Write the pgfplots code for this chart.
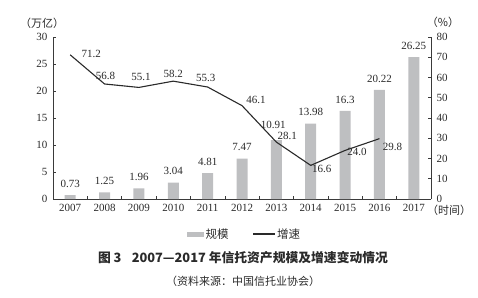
\documentclass[border=0pt]{standalone}
\usepackage{pgfplots}
\usepackage{pgfplotstable}
\pgfplotsset{compat=1.18}
\usepackage{fontspec}
\setmainfont{Liberation Serif}
\newfontfamily\cjk{Noto Sans CJK SC}

\definecolor{barg}{HTML}{BEBFC1}
\definecolor{linec}{HTML}{2A2A2A}
\definecolor{axc}{HTML}{3A3A3A}
\definecolor{txt}{HTML}{2A2A2A}

% trust assets (trillion yuan); dx/dy nudge the value labels
\pgfplotstableread{
x  y      dx  dy
0  0.73   0   0
1  1.25   0   0
2  1.96   0   0
3  3.04   0   0
4  4.81   0   0
5  7.47   0   0
6  10.91 -3   3.5
7  13.98  0   0
8  16.3   0   0
9  20.22  0   0
10 26.25  0   0
}\scale

\pgfplotsset{
  common/.style={
    at={(53pt,98pt)}, anchor=south west,
    scale only axis, width=378pt, height=162pt,
    xmin=-0.5, xmax=10.5,
    tick align=inside, major tick length=3pt, minor tick length=3pt,
    axis line style={draw=axc, line width=0.6pt},
    every tick/.style={draw=axc, line width=0.6pt},
    tick label style={font=\fontsize{11}{13}\selectfont, text=txt},
    /pgf/number format/assume math mode=true,
  },
}

\begin{document}
\begin{tikzpicture}[x=1pt,y=1pt]
\path[use as bounding box] (0,0) rectangle (478,297);

% trust assets, trillion yuan (left axis)
\begin{axis}[common,
  ymin=0, ymax=30, ytick={0,5,...,30},
  axis x line*=bottom, axis y line*=left,
  xtick={0,...,10},
  xticklabels={2007,2008,2009,2010,2011,2012,2013,2014,2015,2016,2017},
  major x tick style={draw=none},
  minor xtick={0.5,1.5,...,9.5},
  yticklabel style={xshift=-2pt},
  xticklabel style={yshift=-2pt},
]
\addplot[ybar, bar width=0.32, fill=barg, draw=none,
  visualization depends on={\thisrow{dx} \as \ldx},
  visualization depends on={\thisrow{dy} \as \ldy},
  nodes near coords={\pgfmathprintnumber[fixed,precision=2]{\pgfplotspointmeta}},
  every node near coord/.style={anchor=south, xshift=\ldx pt, yshift=4pt+\ldy pt,
    font=\fontsize{11}{13}\selectfont, text=txt}]
table[x=x, y=y] {\scale};
\end{axis}

% growth rate, percent (right axis)
\begin{axis}[common,
  ymin=0, ymax=80, ytick={0,10,...,80},
  axis x line=none, axis y line*=right,
  yticklabel style={xshift=2pt},
]
\addplot[draw=linec, line width=1.1pt, mark=none] coordinates {
  (0,71.2) (1,56.8) (2,55.1) (3,58.2) (4,55.3)
  (5,46.1) (6,28.1) (7,16.6) (8,24.0) (9,29.8)
};
\begin{scope}[every node/.style={font=\fontsize{11}{13}\selectfont, text=txt}]
\node[xshift=21pt, yshift=1pt]  at (axis cs:0,71.2) {71.2};
\node[xshift=1pt,  yshift=8pt]  at (axis cs:1,56.8) {56.8};
\node[xshift=2pt,  yshift=10pt] at (axis cs:2,55.1) {55.1};
\node[xshift=0pt,  yshift=7pt]  at (axis cs:3,58.2) {58.2};
\node[xshift=-2pt, yshift=9pt]  at (axis cs:4,55.3) {55.3};
\node[xshift=14pt, yshift=6pt]  at (axis cs:5,46.1) {46.1};
\node[xshift=11pt, yshift=6pt]  at (axis cs:6,28.1) {28.1};
\node[xshift=11pt, yshift=-4pt] at (axis cs:7,16.6) {16.6};
\node[xshift=12pt, yshift=-2pt] at (axis cs:8,24.0) {24.0};
\node[xshift=13pt, yshift=-8pt] at (axis cs:9,29.8) {29.8};
\end{scope}
\end{axis}

% unit labels
\begin{scope}[every node/.style={font=\cjk\fontsize{11}{13}\selectfont, text=txt}]
\node at (42,274) {（万亿）};
\node at (443,275) {（\%）};
\node at (449,87) {（时间）};
\end{scope}

% legend
\fill[barg] (187,60.5) rectangle (204,65.5);
\node[anchor=west, inner sep=0pt, font=\cjk\fontsize{11.5}{13}\selectfont, text=txt] at (205.5,63) {规模};
\draw[linec, line width=1.1pt] (253,63) -- (275,63);
\node[anchor=west, inner sep=0pt, font=\cjk\fontsize{11.5}{13}\selectfont, text=txt] at (277,63) {增速};

% caption and source
\node[font=\cjk\bfseries\fontsize{12.8}{15}\selectfont, text=txt] at (243,39)
  {图 3\hspace{0.8em}2007—2017 年信托资产规模及增速变动情况};
\node[font=\cjk\fontsize{11}{13}\selectfont, text=txt] at (243,16)
  {（资料来源：中国信托业协会）};
\end{tikzpicture}
\end{document}
